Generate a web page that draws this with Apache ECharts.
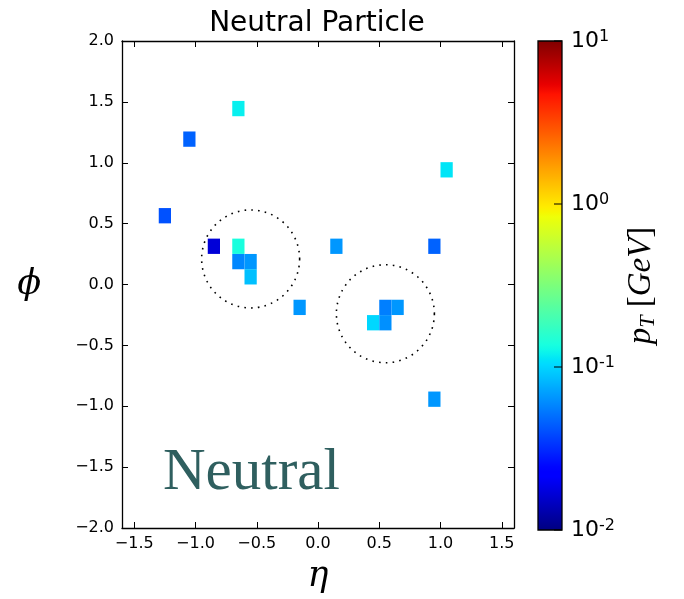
<!DOCTYPE html>
<html>
<head>
<meta charset="utf-8">
<script src="https://cdn.jsdelivr.net/npm/echarts@6/dist/echarts.min.js"></script>
<style>html,body{margin:0;padding:0;background:#fff;}#c{width:684px;height:599px;}</style>
</head>
<body>
<div id="c"></div>
<script>
// ---- data ----
const etaTicks = [-1.5, -1.0, -0.5, 0.0, 0.5, 1.0, 1.5];
const phiTicks = [-2.0, -1.5, -1.0, -0.5, 0.0, 0.5, 1.0, 1.5, 2.0];
const cbarTicks = [0.01, 0.1, 1, 10];
// cell centres (eta, phi) and transverse momentum (GeV)
const etaCells = [-0.65, -1.05, -1.25, -0.85, -0.65, -0.65, -0.55, -0.55, 1.05, 0.15, 0.95, 0.55, 0.65, 0.45, 0.55, -0.15, 0.95];
const phiCells = [1.445, 1.194, 0.565, 0.314, 0.314, 0.188, 0.188, 0.063, 0.942, 0.314, 0.314, -0.188, -0.188, -0.314, -0.314, -0.188, -0.942];
const ptCells  = [0.120, 0.046, 0.041, 0.017, 0.138, 0.059, 0.066, 0.087, 0.112, 0.066, 0.046, 0.056, 0.066, 0.102, 0.063, 0.066, 0.066];
// jet cones: centre eta, centre phi
const coneEta = [-0.55, 0.55];
const conePhi = [0.21, -0.24];
const coneR = 0.4;
const etaBin = 0.1;
const phiBin = Math.PI / 25;

// ---- jet colormap ----
function seg(t, pts) {
  for (let i = 1; i < pts.length; i++) {
    if (t <= pts[i][0]) {
      const a = pts[i - 1], b = pts[i];
      return a[1] + (b[1] - a[1]) * (t - a[0]) / (b[0] - a[0]);
    }
  }
  return pts[pts.length - 1][1];
}
function jet(t) {
  const r = seg(t, [[0,0],[0.35,0],[0.66,1],[0.89,1],[1,0.5]]);
  const g = seg(t, [[0,0],[0.125,0],[0.375,1],[0.64,1],[0.91,0],[1,0]]);
  const b = seg(t, [[0,0.5],[0.11,1],[0.34,1],[0.65,0],[1,0]]);
  const h = v => Math.round(v * 255).toString(16).padStart(2, '0');
  return '#' + h(r) + h(g) + h(b);
}
const N = 100;
const jetColors = [];
const jetStops = [];
for (let i = 0; i <= N; i++) {
  jetColors.push(jet(i / N));
  jetStops.push({offset: i / N, color: jet(i / N)});
}

const cellData = etaCells.map((e, i) => [e, phiCells[i], Math.log10(ptCells[i])]);
const coneData = coneEta.map((e, i) => [e, conePhi[i]]);

const fmt = v => v.toFixed(1).replace('-', '\u2212');
const black = '#000';
const frame = {show: true, onZero: false, lineStyle: {color: black, width: 1.3}};
const tick = (vals) => ({show: true, inside: true, length: 6, customValues: vals, lineStyle: {color: black, width: 1}});
const tickFont = {fontFamily: 'DejaVu Sans', fontSize: 16, color: black};

const chart = echarts.init(document.getElementById('c'), null, {renderer: 'canvas'});
chart.setOption({
  animation: false,
  backgroundColor: '#fff',
  title: {
    text: 'Neutral Particle', left: 312, top: 5, textAlign: 'center',
    textStyle: {fontFamily: 'DejaVu Sans', fontSize: 28, fontWeight: 'normal', color: black}
  },
  grid: [
    {left: 122, top: 41, width: 392, height: 488},
    {left: 538, top: 41, width: 24, height: 489}
  ],
  xAxis: [
    {gridIndex: 0, type: 'value', min: -1.6, max: 1.6, position: 'bottom',
     axisLine: frame, axisTick: tick(etaTicks), splitLine: {show: false},
     axisLabel: Object.assign({customValues: etaTicks, formatter: fmt, margin: 8}, tickFont),
     name: '\u03B7', nameLocation: 'middle', nameGap: 31,
     nameTextStyle: {fontFamily: 'DejaVu Serif', fontStyle: 'italic', fontSize: 35, color: black}},
    {gridIndex: 0, type: 'value', min: -1.6, max: 1.6, position: 'top',
     axisLine: frame, axisTick: tick(etaTicks), splitLine: {show: false}, axisLabel: {show: false}},
    {gridIndex: 1, type: 'value', min: 0, max: 1, show: false}
  ],
  yAxis: [
    {gridIndex: 0, type: 'value', min: -2, max: 2, position: 'left',
     axisLine: frame, axisTick: tick(phiTicks), splitLine: {show: false},
     axisLabel: Object.assign({customValues: phiTicks, formatter: fmt, margin: 8}, tickFont),
     name: '\u03D5', nameLocation: 'middle', nameGap: 81, nameRotate: 0,
     nameTextStyle: {fontFamily: 'DejaVu Serif', fontStyle: 'italic', fontSize: 35, color: black}},
    {gridIndex: 0, type: 'value', min: -2, max: 2, position: 'right',
     axisLine: frame, axisTick: tick(phiTicks), splitLine: {show: false}, axisLabel: {show: false}},
    {gridIndex: 1, type: 'log', logBase: 10, min: 0.01, max: 10, position: 'right',
     axisLine: {show: false}, splitLine: {show: false}, minorTick: {show: false},
     axisTick: {show: false},
     axisLabel: {
       margin: 9,
       formatter: v => '{b|10}{s|' + Math.round(Math.log10(v)) + '}',
       rich: {
         b: {fontFamily: 'DejaVu Sans', fontSize: 22, lineHeight: 24, color: black},
         s: {fontFamily: 'DejaVu Sans', fontSize: 16, lineHeight: 10, verticalAlign: 'top', color: black}
       }
     },
     name: '{i|p}{sub|T}{r| [}{i|GeV}{r|]}', nameLocation: 'middle', nameGap: 61, nameRotate: 90,
     nameTextStyle: {
       rich: {
         i: {fontFamily: 'Liberation Serif', fontStyle: 'italic', fontSize: 33, lineHeight: 36, color: black},
         sub: {fontFamily: 'Liberation Serif', fontStyle: 'italic', fontSize: 22, lineHeight: 14, verticalAlign: 'bottom', color: black},
         r: {fontFamily: 'Liberation Serif', fontSize: 33, lineHeight: 36, color: black}
       }
     }}
  ],
  visualMap: {
    type: 'continuous', show: false, min: -2, max: 1, dimension: 2, seriesIndex: 0,
    inRange: {color: jetColors}
  },
  series: [
    {
      type: 'custom', xAxisIndex: 0, yAxisIndex: 0, data: cellData, clip: true,
      renderItem: (params, api) => {
        const c = api.coord([api.value(0), api.value(1)]);
        const s = api.size([etaBin, phiBin]);
        return {type: 'rect', shape: {x: c[0] - s[0] / 2, y: c[1] - s[1] / 2, width: s[0], height: s[1]},
                style: {fill: api.visual('color')}};
      }
    },
    {
      type: 'custom', xAxisIndex: 0, yAxisIndex: 0, data: coneData, clip: true,
      renderItem: (params, api) => {
        const c = api.coord([api.value(0), api.value(1)]);
        const r = api.size([coneR, coneR])[0];
        return {type: 'circle', shape: {cx: c[0], cy: c[1], r: r},
                style: {fill: null, stroke: black, lineWidth: 1.6, lineDash: [1.6, 5.2]}};
      }
    },
    {
      type: 'custom', xAxisIndex: 2, yAxisIndex: 2, data: [[0, 0.01]], z: 1,
      renderItem: (params, api) => {
        const p0 = api.coord([0, 0.01]);
        const p1 = api.coord([1, 10]);
        const children = [{type: 'rect',
                shape: {x: p0[0], y: p1[1], width: p1[0] - p0[0], height: p0[1] - p1[1]},
                style: {fill: {type: 'linear', x: 0, y: 1, x2: 0, y2: 0, colorStops: jetStops},
                        stroke: black, lineWidth: 1.3}}];
        cbarTicks.forEach(t => {
          const p = api.coord([1, t]);
          children.push({type: 'line', shape: {x1: p[0] - 8, y1: p[1], x2: p[0], y2: p[1]},
                         style: {stroke: black, lineWidth: 1}});
        });
        return {type: 'group', children: children};
      }
    }
  ],
  graphic: [
    {type: 'text', left: 163, top: 444,
     style: {text: 'Neutral', font: '59px "Liberation Serif"', fill: '#2f5f5f'}}
  ]
});
</script>
</body>
</html>
